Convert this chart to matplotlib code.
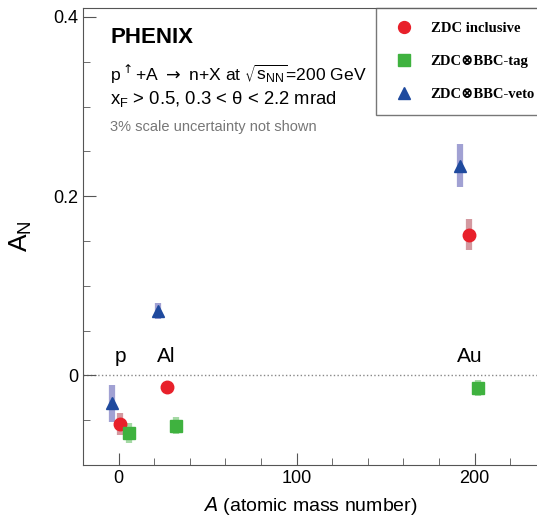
import numpy as np
import matplotlib
matplotlib.use('Agg')
import matplotlib.pyplot as plt
from matplotlib.ticker import MultipleLocator

# data
nuclei = ['p', 'Al', 'Au']
mass = [1, 27, 197]

A_incl = [1, 27, 197]
AN_incl = [-0.054, -0.0125, 0.157]
err_incl = [0.012, 0.004, 0.017]

A_tag = [6, 32, 202]
AN_tag = [-0.064, -0.056, -0.014]
err_tag = [0.011, 0.009, 0.009]

A_veto = [-4, 22, 192]
AN_veto = [-0.031, 0.0715, 0.234]
err_veto = [0.0205, 0.009, 0.024]

plt.rcParams['font.family'] = ['Liberation Sans', 'DejaVu Sans']

fig = plt.figure(figsize=(5.37, 5.25), dpi=100)
ax = fig.add_axes([0.1546, 0.1143, 0.8454, 0.8705])

# error bars first (pale, wide), then markers
ax.errorbar(A_incl, AN_incl, yerr=err_incl, fmt='none', ecolor='#c98088',
            elinewidth=4.5, alpha=0.8, capsize=0, zorder=2)
ax.errorbar(A_tag, AN_tag, yerr=err_tag, fmt='none', ecolor='#8fd08f',
            elinewidth=4.5, alpha=0.8, capsize=0, zorder=2)
ax.errorbar(A_veto, AN_veto, yerr=err_veto, fmt='none', ecolor='#8a8ac8',
            elinewidth=4.5, alpha=0.8, capsize=0, zorder=2)

h1, = ax.plot(A_incl, AN_incl, 'o', color='#e8202a', ms=9, ls='none', zorder=3)
h2, = ax.plot(A_tag, AN_tag, 's', color='#3fb23f', ms=9, ls='none', zorder=3)
h3, = ax.plot(A_veto, AN_veto, '^', color='#1f4a9e', ms=9, ls='none', zorder=3)

ax.axhline(0, color='#888888', ls=':', lw=1, zorder=1)

for name, a in zip(nuclei, mass):
    ax.text(a, 0.021, name, fontsize=15, ha='center', va='center')

ax.set_xlim(-20, 235)
ax.set_ylim(-0.1, 0.41)
ax.xaxis.set_major_locator(MultipleLocator(100))
ax.xaxis.set_minor_locator(MultipleLocator(20))
ax.yaxis.set_major_locator(MultipleLocator(0.2))
ax.yaxis.set_minor_locator(MultipleLocator(0.05))
ax.set_yticks([0, 0.2, 0.4])
ax.set_yticklabels(['0', '0.2', '0.4'])
ax.tick_params(which='both', direction='in', labelsize=13, color='#555555')
ax.tick_params(which='major', length=9)
ax.tick_params(which='minor', length=5)
ax.spines['right'].set_visible(False)
for s in ['left', 'bottom', 'top']:
    ax.spines[s].set_color('#555555')

ax.set_xlabel('$\\mathit{A}$ (atomic mass number)', fontsize=14, labelpad=6)
ax.set_ylabel('$\\mathregular{A_N}$', fontsize=19, labelpad=14)

ax.text(0.06, 0.935, 'PHENIX', transform=ax.transAxes, fontsize=16,
        fontweight='bold', va='center')
ax.text(0.06, 0.855, 'p$^{\\uparrow}$+A $\\rightarrow$ n+X at $\\sqrt{\\mathregular{s_{NN}}}$=200 GeV',
        transform=ax.transAxes, fontsize=12.6, va='center')
ax.text(0.06, 0.8, '$\\mathregular{x_F}$ > 0.5, 0.3 < \u03b8 < 2.2 mrad',
        transform=ax.transAxes, fontsize=13.3, va='center')
ax.text(0.06, 0.74, '3% scale uncertainty not shown', transform=ax.transAxes,
        fontsize=10.5, color='#777777', va='center')

leg = ax.legend([h1, h2, h3], ['ZDC inclusive', 'ZDC\u2297BBC-tag', 'ZDC\u2297BBC-veto'],
                loc='upper left', bbox_to_anchor=(0.645, 1.0), borderaxespad=0,
                fancybox=False, edgecolor='#555555', labelspacing=1.35,
                handletextpad=0.8, borderpad=0.95, markerscale=0.95,
                prop={'family': ['Liberation Serif', 'DejaVu Serif'], 'weight': 'bold', 'size': 10.5})
leg.get_frame().set_linewidth(1.0)

fig.savefig('out.png', dpi=100)
